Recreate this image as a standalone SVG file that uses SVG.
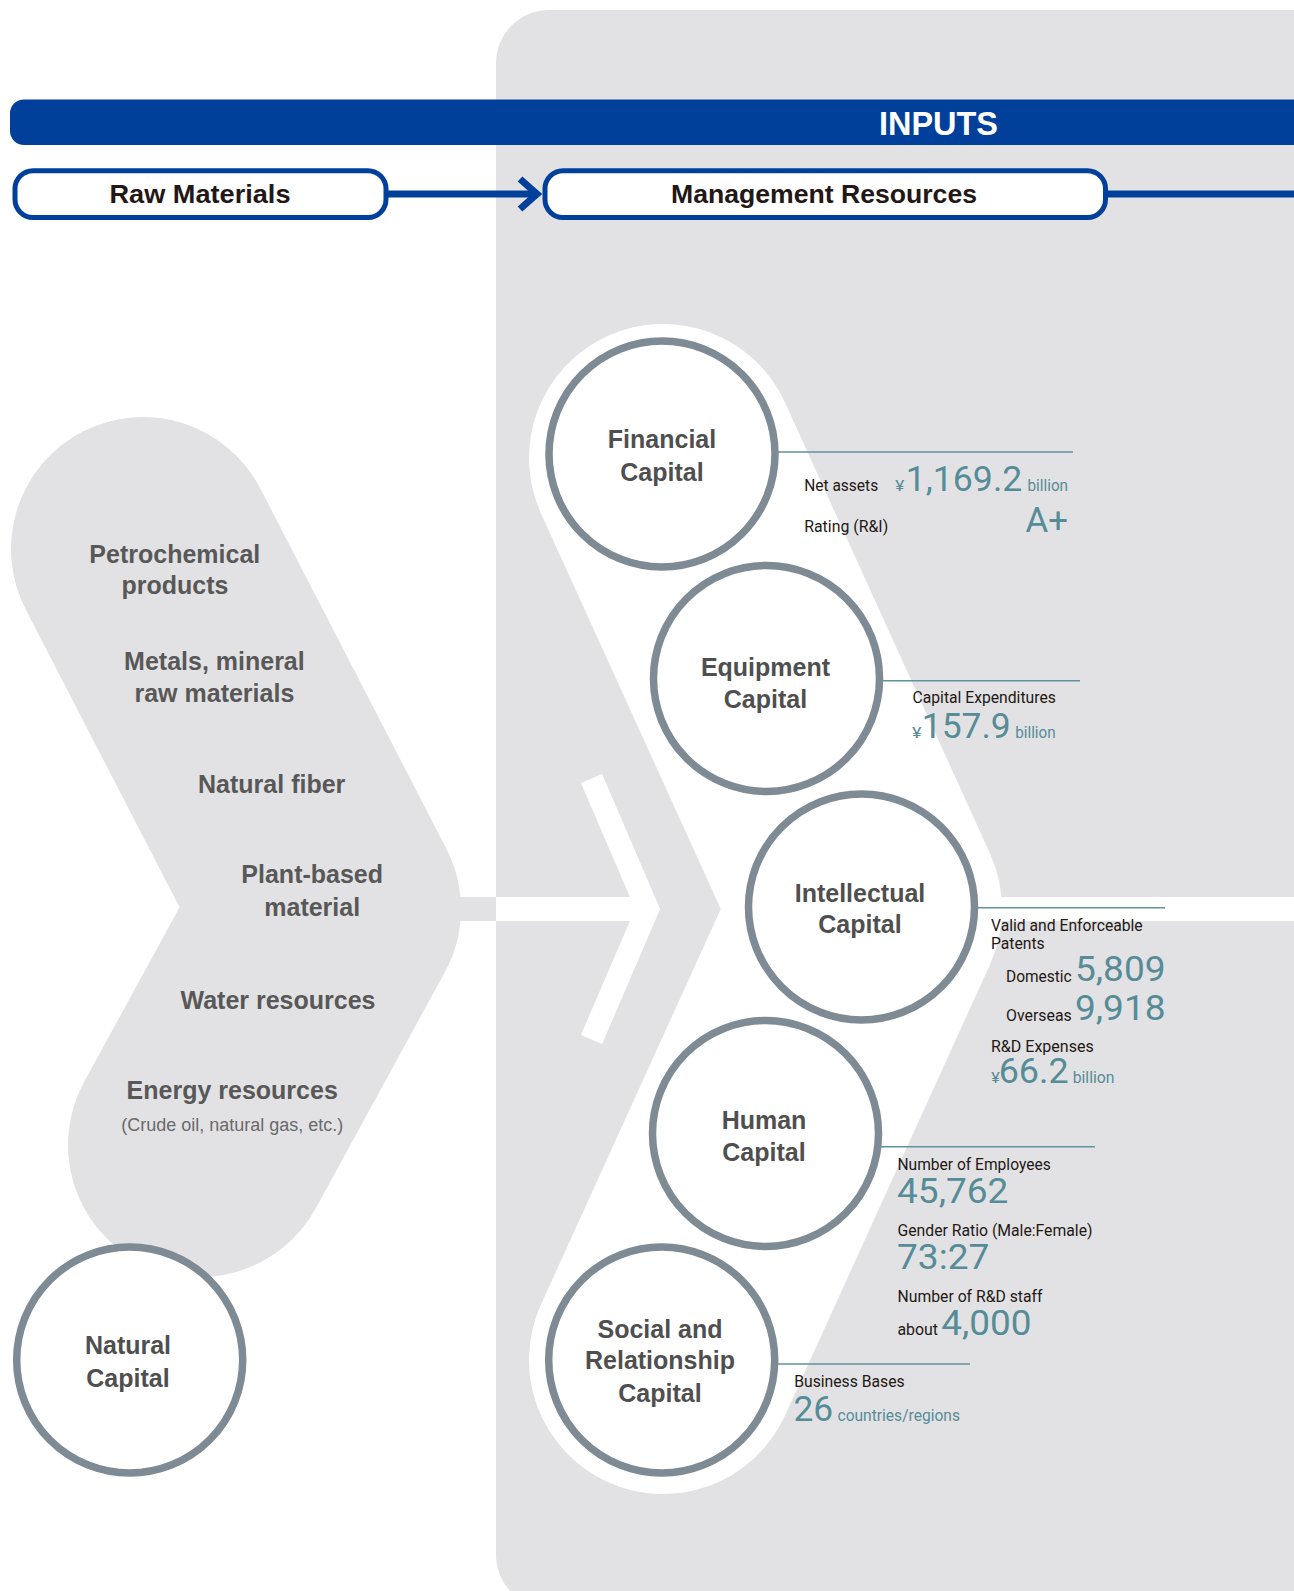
<svg xmlns="http://www.w3.org/2000/svg" width="1294" height="1591" viewBox="0 0 1294 1591">
  <defs>
    <style>
      .panel{fill:#e2e2e4}
      .gshape{fill:none;stroke:#e2e2e4;stroke-linecap:round;stroke-linejoin:round}
      .wshape{fill:none;stroke:#ffffff;stroke-linecap:round;stroke-linejoin:round}
      .box{fill:#ffffff;stroke:#00409a;stroke-width:5}
      .bline{fill:none;stroke:#00409a;stroke-width:7}
      .ring{fill:#ffffff;stroke:#7e8b94;stroke-width:7.5}
      .tline{stroke:#5f939e;stroke-width:1.6}
      .hdr{font-family:"Liberation Sans",Arial,sans-serif;font-weight:bold;fill:#231815}
      .cap{font-family:"Liberation Sans",Arial,sans-serif;font-weight:bold;font-size:25px;fill:#4f4f4f;text-anchor:middle}
      .raw{font-family:"Liberation Sans",Arial,sans-serif;font-weight:bold;font-size:25px;fill:#585858;text-anchor:middle}
      .rawsub{font-family:"Liberation Sans",Arial,sans-serif;font-size:18px;fill:#6a6a6a;text-anchor:middle}
      .lbl{font-family:Roboto,"Liberation Sans",sans-serif;font-size:16px;fill:#231815}
      .num{font-family:Roboto,"Liberation Sans",sans-serif;font-size:35px;fill:#568c97}
      .unit{font-family:Roboto,"Liberation Sans",sans-serif;font-size:16.5px;fill:#568c97}
      .yen{font-family:Roboto,"Liberation Sans",sans-serif;font-size:15px;fill:#568c97}
    </style>
  </defs>

  <rect width="1294" height="1591" fill="#ffffff"/>

  <!-- background shapes -->
  <g id="background">
    <rect class="panel" x="496" y="10" width="900" height="1598" rx="53"/>
    <polyline class="gshape" stroke-width="264" points="143,549 329,909 200,1145"/>
    <rect class="panel" x="440" y="897" width="60" height="24"/>
    <polyline class="wshape" stroke-width="268" points="663,458 868,909 663,1360"/>
    <rect x="990" y="897" width="310" height="24" fill="#ffffff"/>
    <rect x="496" y="897" width="140" height="24" fill="#ffffff"/>
    <polyline fill="none" stroke="#ffffff" stroke-width="23" stroke-linejoin="miter" points="591.5,778.5 647.6,909 591.5,1039.5"/>
  </g>

  <!-- header bar -->
  <g id="inputs-bar">
    <rect x="10" y="99.5" width="1310" height="45.5" rx="14" fill="#00409a"/>
    <text x="938.5" y="135" font-family="Liberation Sans, Arial, sans-serif" font-weight="bold" font-size="34" fill="#ffffff" text-anchor="middle" textLength="119" lengthAdjust="spacingAndGlyphs">INPUTS</text>
  </g>

  <!-- connectors -->
  <g id="connectors">
    <line class="bline" x1="386" y1="194" x2="536" y2="194"/>
    <polyline class="bline" stroke-linejoin="miter" points="520,179 537,194 520,209"/>
    <line class="bline" x1="1105" y1="194" x2="1300" y2="194"/>
    <line class="tline" x1="775" y1="452" x2="1073" y2="452"/>
    <line class="tline" x1="880" y1="680.7" x2="1080" y2="680.7"/>
    <line class="tline" x1="975" y1="907.7" x2="1165" y2="907.7"/>
    <line class="tline" x1="878" y1="1146.7" x2="1095" y2="1146.7"/>
    <line class="tline" x1="775" y1="1364" x2="970" y2="1364"/>
  </g>

  <g id="raw-materials">
    <rect class="box" x="15" y="170.8" width="371" height="46.7" rx="18"/>
    <text class="hdr" x="200" y="202.7" font-size="26" text-anchor="middle" textLength="181" lengthAdjust="spacingAndGlyphs">Raw Materials</text>
  </g>

  <g id="management-resources">
    <rect class="box" x="545" y="170.8" width="560.5" height="46.7" rx="18"/>
    <text class="hdr" x="824" y="202.7" font-size="26" text-anchor="middle" textLength="306" lengthAdjust="spacingAndGlyphs">Management Resources</text>
  </g>

  <g id="raw-list">
    <text class="raw" x="174.8" y="563.3">Petrochemical</text>
    <text class="raw" x="175" y="594.3">products</text>
    <text class="raw" x="214.4" y="670">Metals, mineral</text>
    <text class="raw" x="214.4" y="701.7">raw materials</text>
    <text class="raw" x="271.7" y="793.3">Natural fiber</text>
    <text class="raw" x="312.2" y="883.3">Plant-based</text>
    <text class="raw" x="312.2" y="916.4">material</text>
    <text class="raw" x="278" y="1008.5">Water resources</text>
    <text class="raw" x="232.2" y="1099.4">Energy resources</text>
    <text class="rawsub" x="232.2" y="1131">(Crude oil, natural gas, etc.)</text>
  </g>

  <g id="natural-capital">
    <circle class="ring" cx="129.7" cy="1360" r="113"/>
    <text class="cap" x="128" y="1354.3">Natural</text>
    <text class="cap" x="128" y="1387">Capital</text>
  </g>

  <g id="financial-capital">
    <circle class="ring" cx="662" cy="454" r="113"/>
    <text class="cap" x="662" y="448.3">Financial</text>
    <text class="cap" x="662" y="481">Capital</text>
    <text class="lbl" x="804.2" y="490.7" textLength="74" lengthAdjust="spacingAndGlyphs">Net assets</text>
    <text class="yen" x="895.3" y="490.7" textLength="9" lengthAdjust="spacingAndGlyphs">¥</text>
    <text class="num" x="905.8" y="490.7" textLength="116.5" lengthAdjust="spacingAndGlyphs">1,169.2</text>
    <text class="unit" x="1027.5" y="490.7" textLength="40.5" lengthAdjust="spacingAndGlyphs">billion</text>
    <text class="lbl" x="804.2" y="531.7" textLength="84" lengthAdjust="spacingAndGlyphs">Rating (R&amp;I)</text>
    <text class="num" x="1025.5" y="531.7" font-size="27" textLength="42.5" lengthAdjust="spacingAndGlyphs">A+</text>
  </g>

  <g id="equipment-capital">
    <circle class="ring" cx="766.5" cy="678.5" r="113"/>
    <text class="cap" x="765.5" y="675.7">Equipment</text>
    <text class="cap" x="765.5" y="707.7">Capital</text>
    <text class="lbl" x="912.5" y="703.3" textLength="143.3" lengthAdjust="spacingAndGlyphs">Capital Expenditures</text>
    <text class="yen" x="912" y="737.7" textLength="9.5" lengthAdjust="spacingAndGlyphs">¥</text>
    <text class="num" x="921.8" y="738" textLength="89" lengthAdjust="spacingAndGlyphs">157.9</text>
    <text class="unit" x="1015.2" y="737.7" textLength="40.5" lengthAdjust="spacingAndGlyphs">billion</text>
  </g>

  <g id="intellectual-capital">
    <circle class="ring" cx="861.5" cy="907" r="113"/>
    <text class="cap" x="860" y="901.7">Intellectual</text>
    <text class="cap" x="860" y="933">Capital</text>
    <text class="lbl" x="991" y="930.7" textLength="151.7" lengthAdjust="spacingAndGlyphs">Valid and Enforceable</text>
    <text class="lbl" x="991" y="949.3" textLength="53.7" lengthAdjust="spacingAndGlyphs">Patents</text>
    <text class="lbl" x="1006" y="981.7" textLength="65.7" lengthAdjust="spacingAndGlyphs">Domestic</text>
    <text class="num" x="1075" y="981" textLength="90.6" lengthAdjust="spacingAndGlyphs">5,809</text>
    <text class="lbl" x="1006" y="1020.7" textLength="65.7" lengthAdjust="spacingAndGlyphs">Overseas</text>
    <text class="num" x="1075" y="1020" textLength="90.6" lengthAdjust="spacingAndGlyphs">9,918</text>
    <text class="lbl" x="991" y="1051.7" textLength="102.7" lengthAdjust="spacingAndGlyphs">R&amp;D Expenses</text>
    <text class="yen" x="991.2" y="1082.7" textLength="8.5" lengthAdjust="spacingAndGlyphs">¥</text>
    <text class="num" x="998.7" y="1082.7" textLength="70" lengthAdjust="spacingAndGlyphs">66.2</text>
    <text class="unit" x="1072.7" y="1082.7" textLength="41.8" lengthAdjust="spacingAndGlyphs">billion</text>
  </g>

  <g id="human-capital">
    <circle class="ring" cx="765.5" cy="1133.5" r="113"/>
    <text class="cap" x="764" y="1129">Human</text>
    <text class="cap" x="764" y="1160.7">Capital</text>
    <text class="lbl" x="897.5" y="1170" textLength="153.2" lengthAdjust="spacingAndGlyphs">Number of Employees</text>
    <text class="num" x="897" y="1203.3" textLength="111.4" lengthAdjust="spacingAndGlyphs">45,762</text>
    <text class="lbl" x="897.5" y="1236" textLength="195" lengthAdjust="spacingAndGlyphs">Gender Ratio (Male:Female)</text>
    <text class="num" x="897" y="1269.3" textLength="92.4" lengthAdjust="spacingAndGlyphs">73:27</text>
    <text class="lbl" x="897.5" y="1302.3" textLength="145" lengthAdjust="spacingAndGlyphs">Number of R&amp;D staff</text>
    <text class="lbl" x="897.5" y="1335" textLength="40.5" lengthAdjust="spacingAndGlyphs">about</text>
    <text class="num" x="941.2" y="1335" textLength="90.3" lengthAdjust="spacingAndGlyphs">4,000</text>
  </g>

  <g id="social-capital">
    <circle class="ring" cx="661.7" cy="1360" r="113"/>
    <text class="cap" x="660" y="1338.3">Social and</text>
    <text class="cap" x="660" y="1369.3">Relationship</text>
    <text class="cap" x="660" y="1401.7">Capital</text>
    <text class="lbl" x="794.2" y="1386.7" textLength="110.5" lengthAdjust="spacingAndGlyphs">Business Bases</text>
    <text class="num" x="793.5" y="1421" textLength="39.7" lengthAdjust="spacingAndGlyphs">26</text>
    <text class="unit" x="837.5" y="1421" textLength="122.5" lengthAdjust="spacingAndGlyphs">countries/regions</text>
  </g>
</svg>
